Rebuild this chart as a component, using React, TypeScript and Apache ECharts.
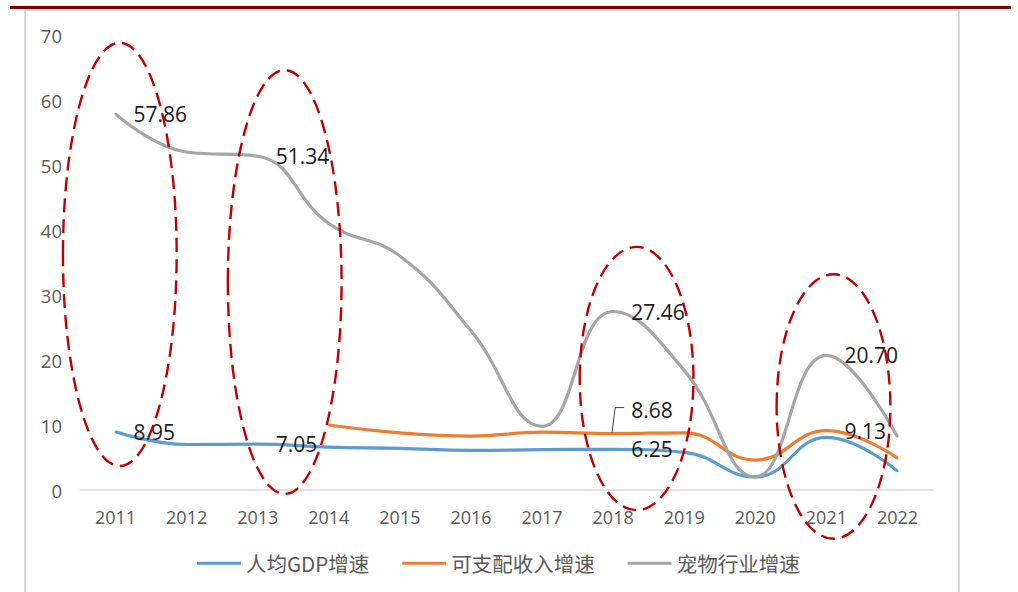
import React, { useEffect, useRef } from "react";
import * as echarts from "echarts";

// Years on the category axis
const years = ["2011", "2012", "2013", "2014", "2015", "2016", "2017", "2018", "2019", "2020", "2021", "2022"];

// Growth rates (%)
const gdpPerCapita = [8.95, 7.0, 7.05, 6.6, 6.4, 6.1, 6.2, 6.25, 5.8, 2.0, 8.1, 2.9];
const disposableIncome: (number | null)[] = [null, null, null, 10.0, 8.8, 8.3, 8.9, 8.68, 8.8, 4.6, 9.13, 4.9];
const petIndustry = [57.86, 52.0, 51.34, 41.0, 36.0, 24.5, 9.8, 27.46, 18.4, 2.0, 20.7, 8.2];

const seriesNames = ["人均GDP增速", "可支配收入增速", "宠物行业增速"];
const seriesColors = ["#5b9bd5", "#ed7d31", "#a5a5a5"];

// Which points carry a value label (by year index)
const gdpLabelled = [0, 2, 7];
const incomeLabelled = [7, 10];
const petLabelled = [0, 2, 7, 10];

// Highlight ellipses: centre (year index), half width (in year steps), top/bottom (value units)
const highlightCentres = [0.06, 2.38, 7.33, 10.1];
const highlightTops = [68.8, 64.6, 37.4, 33.2];
const highlightBottoms = [3.7, -0.6, -3.1, -7.5];
const highlightHalfWidth = 0.8;

const numFont = "'Open Sans', 'Liberation Sans', sans-serif";
const cjkFont = "'Noto Sans CJK SC', 'Open Sans', sans-serif";

function withLabels(values: (number | null)[], labelled: number[], extra: Record<number, any> = {}) {
  return values.map((v, i) => {
    if (v === null) return "-";
    if (!labelled.includes(i)) return v;
    return {
      value: v,
      label: {
        show: true,
        position: "right",
        distance: 17,
        color: "#1a1a1a",
        fontSize: 21,
        fontFamily: numFont,
        formatter: (p: any) => Number(p.value).toFixed(2),
        ...(extra[i] || {}),
      },
    };
  });
}

export default function App() {
  const ref = useRef<HTMLDivElement>(null);

  useEffect(() => {
    if (!ref.current) return;
    const chart = echarts.init(ref.current, null, { renderer: "svg" });

    const lineSeries = (idx: number, data: any[]) => ({
      name: seriesNames[idx],
      type: "line",
      smooth: 0.45,
      symbol: "circle",
      symbolSize: 2,
      showSymbol: true,
      data,
      lineStyle: { color: seriesColors[idx], width: 3.2 },
      itemStyle: { color: seriesColors[idx] },
      emphasis: { disabled: true },
      z: 3,
    });

    chart.setOption({
      animation: false,
      backgroundColor: "#ffffff",
      grid: { left: 80, right: 85, top: 35, bottom: 102, containLabel: false },
      legend: {
        left: 197,
        top: 553,
        padding: 0,
        icon: "rect",
        itemWidth: 44,
        itemHeight: 3,
        itemGap: 33,
        textStyle: { color: "#595959", fontSize: 20.5, fontFamily: cjkFont },
        data: seriesNames,
      },
      xAxis: {
        type: "category",
        data: years,
        boundaryGap: true,
        axisLine: { show: true, lineStyle: { color: "#d9d9d9", width: 1.5 } },
        axisTick: { show: false },
        axisLabel: { color: "#595959", fontSize: 18, fontFamily: numFont, margin: 18 },
        splitLine: { show: false },
      },
      yAxis: {
        type: "value",
        min: 0,
        max: 70,
        interval: 10,
        axisLine: { show: false },
        axisTick: { show: false },
        axisLabel: { color: "#595959", fontSize: 18.5, fontFamily: numFont, margin: 18 },
        splitLine: { show: false },
      },
      series: [
        lineSeries(0, withLabels(gdpPerCapita, gdpLabelled)),
        lineSeries(1, withLabels(disposableIncome, incomeLabelled, { 7: { offset: [0, -24] } })),
        lineSeries(2, withLabels(petIndustry, petLabelled)),
      ],
    });

    // Annotations anchored on the axes
    const x0 = chart.convertToPixel({ xAxisIndex: 0 }, 0) as number;
    const x1 = chart.convertToPixel({ xAxisIndex: 0 }, 1) as number;
    const step = x1 - x0;
    const yPx = (v: number) => chart.convertToPixel({ yAxisIndex: 0 }, v) as number;

    const ellipses = highlightCentres.map((c, i) => {
      const top = yPx(highlightTops[i]);
      const bottom = yPx(highlightBottoms[i]);
      return {
        type: "ellipse",
        z: 10,
        silent: true,
        shape: {
          cx: x0 + c * step,
          cy: (top + bottom) / 2,
          rx: highlightHalfWidth * step,
          ry: (bottom - top) / 2,
        },
        style: { fill: "none", stroke: "#c00000", lineWidth: 2.4, lineDash: [14, 7] },
      };
    });

    const p = chart.convertToPixel({ gridIndex: 0 }, [years[7], disposableIncome[7] as number]) as number[];
    const leader = {
      type: "polyline",
      z: 10,
      silent: true,
      shape: {
        points: [
          [p[0] - 1, p[1] - 1],
          [p[0] + 2, p[1] - 26],
          [p[0] + 11, p[1] - 26],
        ],
      },
      style: { fill: "none", stroke: "#404040", lineWidth: 1 },
    };

    const frame = [
      { type: "rect", z: 0, silent: true, shape: { x: 24, y: 9, width: 2, height: 600 }, style: { fill: "#d9d9d9" } },
      { type: "rect", z: 0, silent: true, shape: { x: 24, y: 9, width: 936, height: 2 }, style: { fill: "#d9d9d9" } },
      { type: "rect", z: 0, silent: true, shape: { x: 958, y: 9, width: 2, height: 600 }, style: { fill: "#d9d9d9" } },
      { type: "rect", z: 1, silent: true, shape: { x: 10, y: 6, width: 1001, height: 3 }, style: { fill: "#7f0000" } },
    ];

    chart.setOption({ graphic: [...frame, ...ellipses, leader] });

    return () => chart.dispose();
  }, []);

  return (
    <div
      ref={ref}
      style={{ position: "absolute", left: 0, top: 0, width: 1018, height: 592 }}
    />
  );
}
